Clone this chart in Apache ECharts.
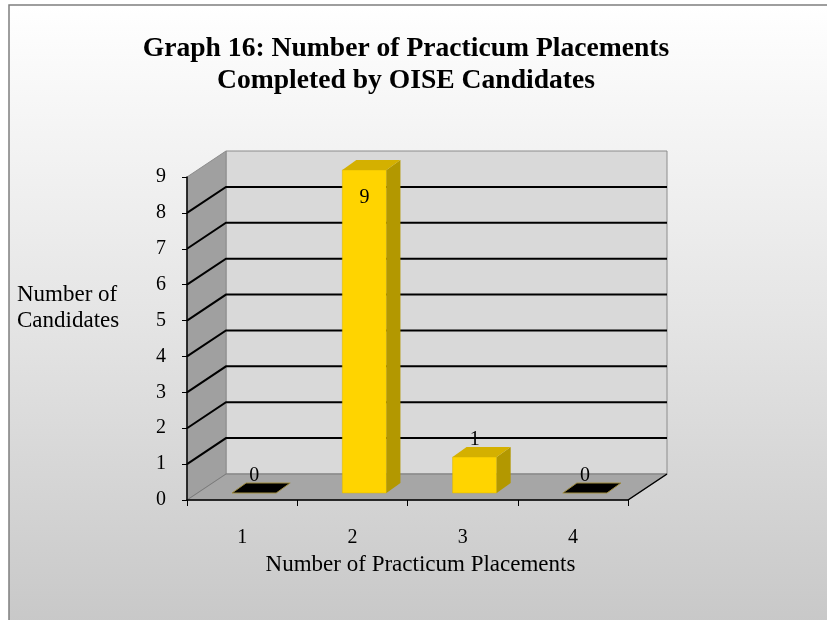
<!DOCTYPE html>
<html>
<head>
<meta charset="utf-8">
<script src="https://cdn.jsdelivr.net/npm/echarts@6/dist/echarts.min.js"></script>
<style>
  html, body { margin: 0; padding: 0; background: #fff; }
  #chart { width: 827px; height: 620px; }
</style>
</head>
<body>
<div id="chart"></div>
<script>
const categories = ['1', '2', '3', '4'];
const candidates = [0, 9, 1, 0];
const gridValues = [1, 2, 3, 4, 5, 6, 7, 8];
const yMax = 9;

// depth of the 3d box and of the bars (pixels)
const DX = 39, DY = -26;
const FDX = 12, FDY = -7, BDX = 26, BDY = -17;

const FONT = 'Liberation Serif';

const chart = echarts.init(document.getElementById('chart'));

function renderWalls(params, api) {
  const cs = params.coordSys;
  const x0 = cs.x, x1 = cs.x + cs.width;
  const yb = api.coord([0, 0])[1];
  const yt = api.coord([0, yMax])[1];
  const children = [];
  // back wall
  children.push({
    type: 'polygon',
    shape: { points: [[x0 + DX, yt + DY], [x1 + DX, yt + DY], [x1 + DX, yb + DY], [x0 + DX, yb + DY]] },
    style: { fill: '#d9d9d9', stroke: '#8c8c8c', lineWidth: 1 }
  });
  // left wall
  children.push({
    type: 'polygon',
    shape: { points: [[x0, yt], [x0 + DX, yt + DY], [x0 + DX, yb + DY], [x0, yb]] },
    style: { fill: '#a0a0a0', stroke: '#8c8c8c', lineWidth: 1 }
  });
  // floor
  children.push({
    type: 'polygon',
    shape: { points: [[x0, yb], [x1, yb], [x1 + DX, yb + DY], [x0 + DX, yb + DY]] },
    style: { fill: '#a6a6a6', stroke: '#7a7a7a', lineWidth: 1 }
  });
  gridValues.forEach(function (v) {
    const y = api.coord([0, v])[1];
    children.push({
      type: 'polyline',
      shape: { points: [[x0, y], [x0 + DX, y + DY], [x1 + DX, y + DY]] },
      style: { stroke: '#000', lineWidth: 2, fill: null }
    });
  });
  children.push({
    type: 'line',
    shape: { x1: x1, y1: yb, x2: x1 + DX, y2: yb + DY },
    style: { stroke: '#000', lineWidth: 1.5 }
  });
  return { type: 'group', children: children };
}

function renderBar(params, api) {
  const i = api.value(0), v = api.value(1);
  const base = api.coord([i, 0]);
  const top = api.coord([i, v]);
  const hw = api.size([1, 0])[0] * 0.2;
  const cx = base[0] + FDX;
  const yBot = base[1] + FDY, yTop = top[1] + FDY;
  const ddx = BDX - FDX, ddy = BDY - FDY;
  const l = cx - hw, r = cx + hw;
  const topFace = [[l, yTop], [r, yTop], [r + ddx, yTop + ddy], [l + ddx, yTop + ddy]];
  const children = [];
  if (v === 0) {
    children.push({ type: 'polygon', shape: { points: topFace }, style: { fill: '#000', stroke: '#a08c3c', lineWidth: 1 } });
  } else {
    children.push({ type: 'rect', shape: { x: l, y: yTop, width: hw * 2, height: yBot - yTop }, style: { fill: '#ffd400', stroke: '#d9b400', lineWidth: 0.5 } });
    children.push({ type: 'polygon', shape: { points: [[r, yTop], [r, yBot], [r + ddx, yBot + ddy], [r + ddx, yTop + ddy]] }, style: { fill: '#b39800' } });
    children.push({ type: 'polygon', shape: { points: topFace }, style: { fill: '#d4b000' } });
  }
  const inside = v >= yMax;
  children.push({
    type: 'text',
    style: {
      text: String(v),
      x: cx,
      y: inside ? yTop + 28 : yTop + ddy + 3,
      align: 'center',
      verticalAlign: inside ? 'middle' : 'bottom',
      fill: '#000',
      font: '20px "' + FONT + '"'
    }
  });
  return { type: 'group', children: children };
}

const option = {
  animation: false,
  graphic: [
    {
      type: 'rect',
      z: -100,
      shape: { x: 9, y: 5, width: 840, height: 640 },
      style: {
        fill: new echarts.graphic.LinearGradient(0, 0, 0, 1, [
          { offset: 0, color: '#ffffff' },
          { offset: 0.5, color: '#e4e4e4' },
          { offset: 1, color: '#c6c6c6' }
        ]),
        stroke: '#7f7f7f',
        lineWidth: 1.5
      }
    },
    {
      type: 'text',
      z: 100,
      style: {
        text: 'Graph 16: Number of Practicum Placements\nCompleted by OISE Candidates',
        x: 406,
        y: 33,
        align: 'center',
        verticalAlign: 'top',
        fill: '#000',
        font: 'bold 27.6px "' + FONT + '"',
        lineHeight: 32
      }
    }
  ],
  title: {
    text: 'Number of\nCandidates',
    left: 12,
    top: 277,
    textStyle: { fontFamily: FONT, fontSize: 23, fontWeight: 'normal', color: '#000', lineHeight: 26 }
  },
  grid: { left: 187, top: 177, right: 199, bottom: 120 },
  xAxis: {
    type: 'category',
    data: categories,
    z: 10,
    axisLine: { lineStyle: { color: '#000', width: 1.5 } },
    axisTick: { show: true, length: 6, lineStyle: { color: '#000' } },
    axisLabel: { color: '#000', fontFamily: FONT, fontSize: 20, margin: 28 },
    name: 'Number of Practicum Placements',
    nameLocation: 'middle',
    nameGap: 53,
    nameTextStyle: { color: '#000', fontFamily: FONT, fontSize: 23, padding: [0, 0, 0, 26] }
  },
  yAxis: {
    type: 'value',
    min: 0,
    max: yMax,
    interval: 1,
    z: 10,
    axisLine: { show: true, lineStyle: { color: '#000', width: 1.5 } },
    axisTick: { show: true, length: 5, lineStyle: { color: '#000' } },
    axisLabel: { color: '#000', fontFamily: FONT, fontSize: 20, margin: 21 },
    splitLine: { show: false }
  },
  series: [
    {
      type: 'custom',
      name: 'walls',
      clip: false,
      silent: true,
      z: 1,
      renderItem: renderWalls,
      data: [[0, 0]]
    },
    {
      type: 'custom',
      name: 'Candidates',
      clip: false,
      z: 5,
      renderItem: renderBar,
      data: candidates.map(function (v, i) { return [i, v]; })
    }
  ]
};

chart.setOption(option);
</script>
</body>
</html>
